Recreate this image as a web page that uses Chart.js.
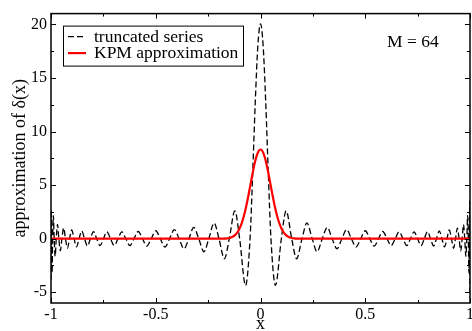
<!DOCTYPE html>
<html>
<head>
<meta charset="utf-8">
<script src="https://cdn.jsdelivr.net/npm/chart.js@4.4.0/dist/chart.umd.min.js"></script>
<style>
  html, body { margin: 0; padding: 0; background: #fff; }
  canvas { display: block; }
</style>
</head>
<body>
<canvas id="deltaChart" width="472" height="331"></canvas>
<script>
// tick values
const xMajor = [-1, -0.5, 0, 0.5, 1];
const xMinor = [-0.75, -0.25, 0.25, 0.75];
const yMajor = [-5, 0, 5, 10, 15, 20];
const yMinor = [-2.5, 2.5, 7.5, 12.5, 17.5];

// truncated Chebyshev series (dashed): extrema and zero crossings
const truncX = [
  -1.0, -0.9988, -0.9971, -0.9950, -0.9921, -0.9888, -0.9848, -0.9802, -0.9749, -0.9691,
  -0.9626, -0.9556, -0.9479, -0.9397, -0.9309, -0.9215, -0.9115, -0.9010, -0.8899, -0.8782,
  -0.8660, -0.8533, -0.8400, -0.8262, -0.8119, -0.7971, -0.7818, -0.7660, -0.7498, -0.7331,
  -0.7159, -0.6982, -0.6802, -0.6617, -0.6428, -0.6235, -0.6038, -0.5837, -0.5633, -0.5426,
  -0.5215, -0.5000, -0.4783, -0.4562, -0.4339, -0.4113, -0.3884, -0.3653, -0.3420, -0.3185,
  -0.2948, -0.2699, -0.2468, -0.2214, -0.1982, -0.1722, -0.1490, -0.1223, -0.0996, -0.0713,
  -0.0499, -0.0375, -0.025, -0.0125, 0,
  0.0125, 0.025, 0.0375, 0.0499,
  0.0713, 0.0996, 0.1223, 0.1490, 0.1722, 0.1982, 0.2214, 0.2468, 0.2699, 0.2948,
  0.3185, 0.3420, 0.3653, 0.3884, 0.4113, 0.4339, 0.4562, 0.4783, 0.5000, 0.5215,
  0.5426, 0.5633, 0.5837, 0.6038, 0.6235, 0.6428, 0.6617, 0.6802, 0.6982, 0.7159,
  0.7331, 0.7498, 0.7660, 0.7818, 0.7971, 0.8119, 0.8262, 0.8400, 0.8533, 0.8660,
  0.8782, 0.8899, 0.9010, 0.9115, 0.9215, 0.9309, 0.9397, 0.9479, 0.9556, 0.9626,
  0.9691, 0.9749, 0.9802, 0.9848, 0.9888, 0.9921, 0.9950, 0.9971, 0.9988, 1.0
];
const truncY = [
  -3.8, 2.7, 0, -3.2, 0, 2.16, 0, -1.64, 0, 1.33,
  0, -1.13, 0, 0.99, 0, -0.89, 0, 0.81, 0, -0.76,
  0, 0.72, 0, -0.68, 0, 0.66, 0, -0.65, 0, 0.64,
  0, -0.64, 0, 0.64, 0, -0.65, 0, 0.67, 0, -0.70,
  0, 0.74, 0, -0.78, 0, 0.85, 0, -0.94, 0, 1.05,
  0, -1.22, 0, 1.47, 0, -1.87, 0, 2.60, 0, -4.36,
  0, 5.96, 12.72, 18.04, 20.05,
  18.04, 12.72, 5.96, 0,
  -4.36, 0, 2.60, 0, -1.87, 0, 1.47, 0, -1.22, 0,
  1.05, 0, -0.94, 0, 0.85, 0, -0.78, 0, 0.74, 0,
  -0.70, 0, 0.67, 0, -0.65, 0, 0.64, 0, -0.64, 0,
  0.64, 0, -0.65, 0, 0.66, 0, -0.68, 0, 0.72, 0,
  -0.76, 0, 0.81, 0, -0.89, 0, 0.99, 0, -1.13, 0,
  1.33, 0, -1.64, 0, 2.16, 0, -3.2, 0, 3.5, -5.5
];

// KPM (Jackson kernel) approximation (red)
const kpmX = [
  -1, -0.2, -0.18, -0.16, -0.14, -0.12, -0.11, -0.10, -0.09, -0.08, -0.07, -0.06, -0.05,
  -0.04, -0.03, -0.02, -0.01, 0, 0.01, 0.02, 0.03, 0.04,
  0.05, 0.06, 0.07, 0.08, 0.09, 0.10, 0.11, 0.12, 0.14, 0.16, 0.18, 0.2, 1
];
const kpmY = [
  0, 0, 0.01, 0.03, 0.12, 0.36, 0.60, 0.95, 1.43, 2.07, 2.87, 3.80, 4.83,
  5.87, 6.84, 7.63, 8.14, 8.32, 8.14, 7.63, 6.84, 5.87,
  4.83, 3.80, 2.87, 2.07, 1.43, 0.95, 0.60, 0.36, 0.12, 0.03, 0.01, 0, 0
];

const serif = '"Liberation Serif", "Times New Roman", serif';

// frame, inward ticks on all sides, legend box and the M label
const framePlugin = {
    id: 'frame',
    afterDatasetsDraw(chart) {
        const ctx = chart.ctx;
        const a = chart.chartArea;
        const xs = chart.scales.x;
        const ys = chart.scales.y;
        ctx.save();
        ctx.strokeStyle = '#000';
        ctx.lineWidth = 1;
        const tick = (vals, len) => {
            vals.forEach(v => {
                const px = Math.round(xs.getPixelForValue(v)) + 0.5;
                ctx.beginPath();
                ctx.moveTo(px, a.bottom); ctx.lineTo(px, a.bottom - len);
                ctx.moveTo(px, a.top); ctx.lineTo(px, a.top + len);
                ctx.stroke();
            });
        };
        const ytick = (vals, len) => {
            vals.forEach(v => {
                const py = Math.round(ys.getPixelForValue(v)) + 0.5;
                ctx.beginPath();
                ctx.moveTo(a.left, py); ctx.lineTo(a.left + len, py);
                ctx.moveTo(a.right, py); ctx.lineTo(a.right - len, py);
                ctx.stroke();
            });
        };
        tick(xMajor, 5);
        tick(xMinor, 3);
        ytick(yMajor, 5);
        ytick(yMinor, 3);

        ctx.lineWidth = 1.5;
        ctx.strokeRect(a.left, a.top, a.right - a.left, a.bottom - a.top);

        // legend
        const lx = a.left + 12, ly = a.top + 12, lw = 180, lh = 40;
        ctx.fillStyle = '#fff';
        ctx.fillRect(lx, ly, lw, lh);
        ctx.lineWidth = 1;
        ctx.strokeStyle = '#000';
        ctx.strokeRect(lx + 0.5, ly + 0.5, lw, lh);
        ctx.font = '17.5px ' + serif;
        ctx.textBaseline = 'alphabetic';
        ctx.textAlign = 'left';
        chart.data.datasets.forEach((ds, i) => {
            const yy = ly + 11 + i * 16.5;
            ctx.save();
            ctx.strokeStyle = ds.borderColor;
            ctx.lineWidth = ds.borderWidth;
            ctx.setLineDash(ds.borderDash || []);
            ctx.beginPath();
            ctx.moveTo(lx + 5, yy);
            ctx.lineTo(lx + 23, yy);
            ctx.stroke();
            ctx.restore();
            ctx.fillStyle = '#000';
            ctx.fillText(ds.label, lx + 31, yy + 5);
        });

        ctx.font = '17.5px ' + serif;
        ctx.fillStyle = '#000';
        ctx.fillText('M = 64', a.right - 83, a.top + 33);
        ctx.restore();
    }
};

const deltaCtx = document.getElementById('deltaChart').getContext('2d');
const deltaChart = new Chart(deltaCtx, {
    type: 'line',
    data: {
        datasets: [{
            label: 'truncated series',
            data: truncX.map((x, i) => ({ x: x, y: truncY[i] })),
            borderColor: '#000000',
            borderWidth: 1.3,
            borderDash: [6, 3],
            pointRadius: 0,
            cubicInterpolationMode: 'monotone',
            order: 1
        }, {
            label: 'KPM approximation',
            data: kpmX.map((x, i) => ({ x: x, y: kpmY[i] })),
            borderColor: '#ff0000',
            borderWidth: 2.2,
            pointRadius: 0,
            cubicInterpolationMode: 'monotone',
            order: 0
        }]
    },
    options: {
        responsive: false,
        animation: false,
        layout: { padding: { top: 10, right: 2, left: 0, bottom: 0 } },
        plugins: {
            legend: { display: false },
            tooltip: { enabled: false }
        },
        scales: {
            x: {
                type: 'linear',
                min: -1,
                max: 1,
                afterBuildTicks: s => { s.ticks = xMajor.map(v => ({ value: v })); },
                afterFit: s => { s.height = 28; s.paddingLeft = 0; s.paddingRight = 0; },
                grid: { display: false, drawTicks: false },
                border: { display: false },
                ticks: {
                    padding: 2,
                    maxRotation: 0,
                    autoSkip: false,
                    color: '#000',
                    font: { family: serif, size: 16 },
                    callback: v => String(v)
                },
                title: {
                    display: true,
                    text: 'x',
                    color: '#000',
                    padding: 0,
                    font: { family: serif, size: 18, lineHeight: 0.7 }
                }
            },
            y: {
                type: 'linear',
                min: -6,
                max: 21,
                afterBuildTicks: s => { s.ticks = yMajor.map(v => ({ value: v })); },
                afterFit: s => { s.width = 51; },
                grid: { display: false, drawTicks: false },
                border: { display: false },
                ticks: {
                    padding: 4,
                    color: '#000',
                    font: { family: serif, size: 16 },
                    callback: v => String(v)
                },
                title: {
                    display: true,
                    text: 'approximation of δ(x)',
                    color: '#000',
                    padding: { top: 11, bottom: 0 },
                    font: { family: serif, size: 18, lineHeight: 1 }
                }
            }
        }
    },
    plugins: [framePlugin]
});
</script>
</body>
</html>
